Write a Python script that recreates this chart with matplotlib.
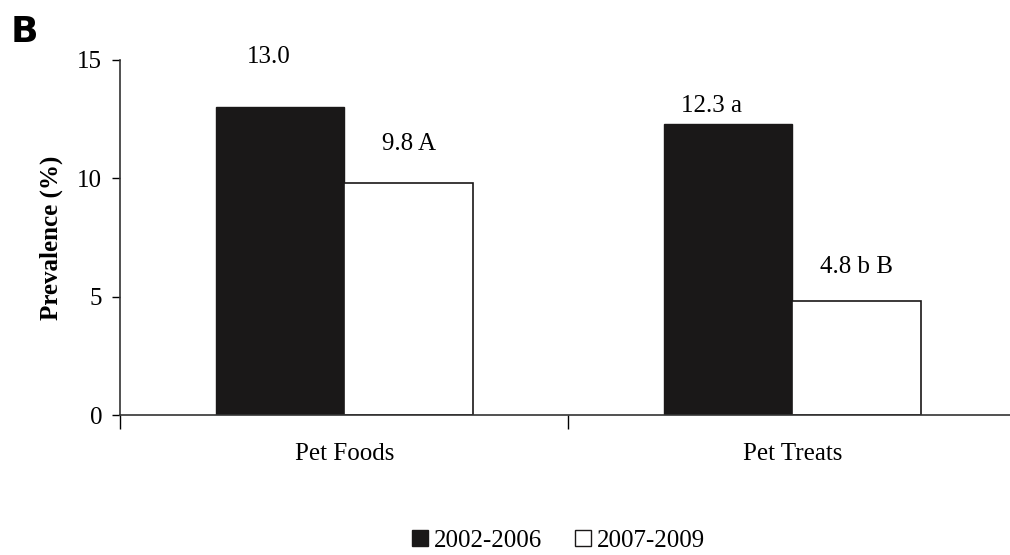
import numpy as np
import matplotlib.pyplot as plt
from matplotlib.patches import Patch

categories = ["Pet Foods", "Pet Treats"]
series_names = ["2002-2006", "2007-2009"]
vals_early = [13.0, 12.3]
vals_late = [9.8, 4.8]
labels_early = ["13.0", "12.3 a"]
labels_late = ["9.8 A", "4.8 b B"]

plt.rcParams['font.family'] = ['Liberation Serif', 'DejaVu Serif']

fig = plt.figure(figsize=(10.1, 5.55), dpi=100)
ax = fig.add_axes([0.119, 0.252, 0.883, 0.640])

x = np.arange(len(categories))
w = 0.287
ax.bar(x - w / 2, vals_early, w, color="#1a1818", edgecolor="#1a1818", linewidth=1)
ax.bar(x + w / 2, vals_late, w, color="white", edgecolor="#1a1818", linewidth=1.2)

# value labels sit a bit above their bars, offsets
early_off = [1.85, 0.5]
early_dx = [-0.025, -0.038]
late_off = [1.4, 1.2]
for i in range(len(categories)):
    ax.text(x[i] - w / 2 + early_dx[i], vals_early[i] + early_off[i], labels_early[i],
            ha="center", va="baseline", fontsize=18)
    ax.text(x[i] + w / 2, vals_late[i] + late_off[i], labels_late[i],
            ha="center", va="baseline", fontsize=18)

ax.set_xlim(-0.5, 1.49)
ax.set_ylim(0, 15)
ax.set_yticks([0, 5, 10, 15])
ax.tick_params(axis="y", labelsize=18, length=6, width=1, direction="out", pad=7)
ax.set_xticks([-0.5, 0.5])
ax.set_xticklabels([])
ax.set_xticks(x, minor=True)
ax.set_xticklabels(categories, minor=True, fontsize=18)
ax.tick_params(axis="x", which="major", length=10, width=1, direction="out")
ax.tick_params(axis="x", which="minor", length=0, pad=20)

for s in ["top", "right"]:
    ax.spines[s].set_visible(False)
for s in ["left", "bottom"]:
    ax.spines[s].set_color("#333333")
    ax.spines[s].set_linewidth(1.2)

ax.set_ylabel("Prevalence (%)", fontsize=18, fontweight="bold", labelpad=10)

fig.text(0.011, 0.925, "B", fontsize=26, fontweight="bold", family="DejaVu Sans")

handles = [Patch(facecolor="#1a1818", edgecolor="#1a1818"),
           Patch(facecolor="white", edgecolor="#1a1818")]
fig.legend(handles, series_names, loc="lower center", bbox_to_anchor=(0.553, -0.035),
           ncol=2, frameon=False, fontsize=18, handlelength=0.65, handleheight=0.65,
           handletextpad=0.25, columnspacing=1.3)

fig.savefig("out.png", dpi=100)
